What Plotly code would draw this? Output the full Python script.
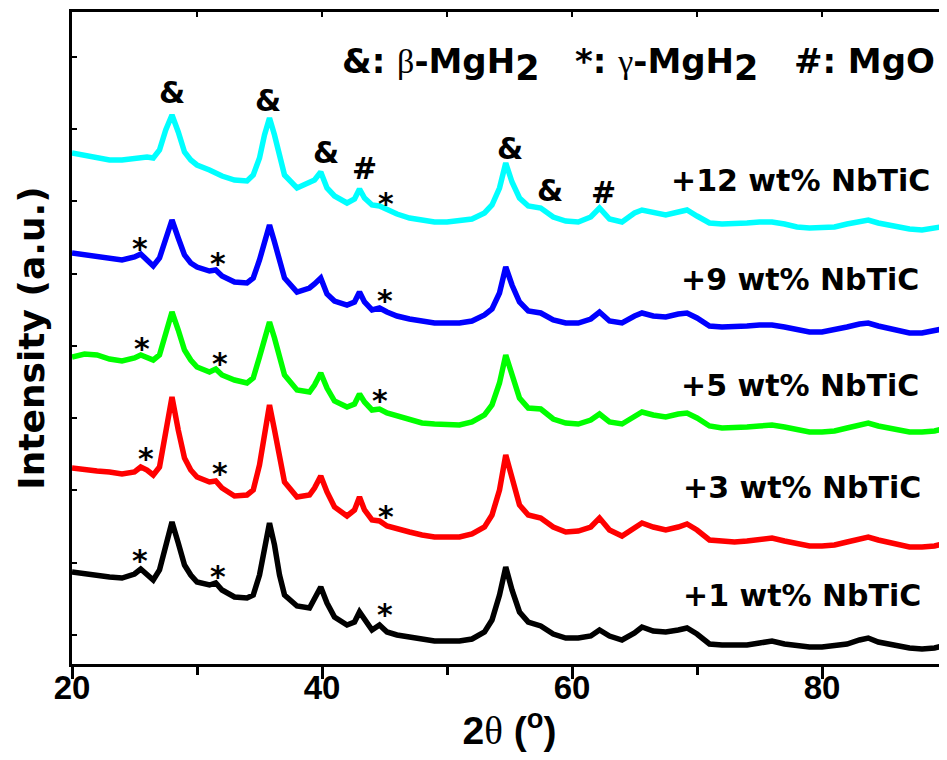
import plotly.graph_objects as go

# 2-theta grid (degrees)
two_theta = [20, 21, 22, 23, 24, 25, 25.5, 26, 26.5, 27,
             27.5, 28, 28.5, 29, 29.5, 30, 31, 31.5, 32, 33,
             34, 34.5, 35, 35.4, 35.8, 36.2, 36.6, 37, 38, 39,
             39.4, 39.9, 40.4, 41, 42, 42.6, 43, 43.4, 44, 44.6,
             45.2, 46, 47, 48, 49, 50, 51, 52, 53, 53.6,
             54.2, 54.7, 55.2, 55.8, 56.5, 57.5, 58.5, 59.5, 60.5, 61.5,
             62.2, 63, 64, 65, 65.6, 66.5, 67.5, 68.5, 69.2, 70,
             71, 72, 73, 74, 75, 76, 77, 78, 79, 80,
             81, 82, 83, 83.7, 84.5, 86, 87, 88, 89, 90]

# stacked intensities (a.u.)
int_1wt = [92, 90, 89, 87, 86, 90, 95, 89, 84, 94,
           119, 142, 121, 99, 89, 82, 79, 81, 74, 67,
           66, 69, 89, 119, 141, 119, 89, 69, 58, 56,
           66, 77, 61, 47, 39, 42, 52, 44, 34, 39,
           32, 29, 27, 25, 23, 23, 23, 25, 32, 44,
           69, 97, 74, 52, 42, 38, 30, 26, 26, 28,
           34, 28, 24, 31, 37, 33, 32, 34, 36, 30,
           20, 19, 19, 19, 21, 23, 20, 18, 17, 17,
           18, 20, 24, 26, 22, 18, 16, 15, 16, 19]

int_3wt = [196, 194, 193, 192, 190, 192, 197, 194, 189, 197,
           231, 267, 234, 206, 194, 187, 182, 183, 176, 168,
           169, 174, 199, 229, 259, 234, 204, 182, 167, 169,
           176, 188, 172, 157, 148, 154, 167, 154, 144, 143,
           138, 135, 132, 129, 127, 127, 127, 130, 137, 149,
           174, 209, 186, 159, 149, 146, 137, 132, 133, 137,
           146, 134, 128, 137, 141, 137, 134, 137, 140, 134,
           124, 123, 122, 123, 125, 126, 123, 120, 118, 118,
           119, 122, 125, 127, 124, 119, 117, 117, 118, 121]

int_5wt = [307, 310, 309, 305, 303, 306, 309, 306, 304, 309,
           331, 352, 334, 314, 304, 297, 292, 295, 289, 284,
           281, 286, 307, 326, 342, 326, 306, 289, 274, 272,
           279, 291, 276, 263, 257, 260, 270, 262, 254, 255,
           251, 248, 244, 241, 240, 239, 239, 242, 249, 259,
           281, 309, 289, 266, 256, 255, 245, 241, 240, 244,
           250, 242, 240, 248, 252, 249, 247, 250, 251, 246,
           238, 236, 236, 237, 238, 239, 237, 234, 232, 232,
           233, 236, 239, 241, 238, 234, 232, 232, 233, 236]

int_9wt = [411, 409, 407, 405, 404, 407, 410, 404, 398, 406,
           426, 444, 426, 409, 401, 397, 393, 394, 388, 382,
           381, 386, 404, 424, 439, 422, 402, 386, 372, 376,
           380, 386, 370, 363, 359, 362, 372, 362, 354, 356,
           352, 348, 345, 343, 341, 341, 341, 343, 349, 355,
           371, 397, 379, 362, 353, 351, 344, 341, 341, 345,
           352, 343, 341, 348, 351, 348, 347, 350, 351, 346,
           338, 337, 337, 338, 339, 339, 337, 334, 332, 332,
           334, 337, 340, 341, 338, 334, 331, 331, 333, 336]

int_12wt = [511, 509, 506, 504, 504, 505, 506, 507, 506, 514,
            534, 549, 532, 512, 504, 499, 494, 491, 488, 484,
            483, 489, 506, 529, 546, 529, 506, 489, 476, 481,
            484, 492, 476, 468, 461, 465, 475, 466, 459, 458,
            454, 450, 446, 444, 442, 442, 443, 445, 451, 459,
            476, 501, 482, 466, 458, 456, 447, 443, 442, 447,
            456, 445, 442, 451, 454, 451, 449, 452, 454, 448,
            441, 440, 440, 441, 442, 442, 440, 437, 436, 436,
            437, 440, 443, 444, 441, 437, 435, 434, 436, 438]

series_names = ["+1 wt% NbTiC", "+3 wt% NbTiC", "+5 wt% NbTiC",
                "+9 wt% NbTiC", "+12 wt% NbTiC"]
series_values = [int_1wt, int_3wt, int_5wt, int_9wt, int_12wt]
series_colors = ["#000000", "#FF0000", "#00FF00", "#0000FF", "#00FFFF"]

# x-axis ticks
x_major = [20, 40, 60, 80]
x_minor = [30, 50, 70]
x_top = [30, 40, 50, 60, 70, 80]

# series label positions (2theta of right edge, intensity)
label_x = [88.1, 88.1, 87.9, 87.9, 88.8]
label_y = [69, 177, 279, 385, 484]

# phase markers: (2theta, intensity, symbol)
mark_x = [28.0, 35.7, 40.3, 43.4, 45.1, 55.0, 58.2, 62.5,
          25.4, 31.7, 45.0,
          25.6, 31.8, 44.6,
          25.9, 31.8, 45.1,
          25.4, 31.7, 45.0]
mark_y = [572, 564, 512, 496, 464, 516, 474, 472,
          419, 404, 367,
          319, 304, 267,
          209, 194, 151,
          107, 91, 53]
mark_text = ["&", "&", "&", "#", "*", "&", "&", "#",
             "*", "*", "*",
             "*", "*", "*",
             "*", "*", "*",
             "*", "*", "*"]

GREEK = 'font-family:Liberation Serif;font-weight:normal'
SUB2 = '<sub><span style="font-size:35px">2</span></sub>'
header = ('&: <span style="%s">β</span>-MgH%s   *: <span style="%s">γ</span>-MgH%s   #: MgO'
          % (GREEK, SUB2, GREEK, SUB2))

LBL = "DejaVu Sans"
ARIAL = "Liberation Sans"

# page body has an 8px margin: figure is sized so that its plot frame
# lands where the reference frame is, without page scrollbars
PAGE_OFF = 8
W, H = 947 - PAGE_OFF, 760 - 2 * PAGE_OFF
ML, MT = 72 - PAGE_OFF, 12 - PAGE_OFF
MB = H - MT - 652

fig = go.Figure()
for name, vals, col in zip(series_names, series_values, series_colors):
    fig.add_trace(go.Scatter(x=two_theta, y=vals, mode="lines", name=name,
                             line=dict(color=col, width=5.5), showlegend=False))
# invisible trace on top axis so it is drawn
fig.add_trace(go.Scatter(x=[two_theta[0], two_theta[-1]], y=[int_1wt[0], int_1wt[-1]],
                         xaxis="x2", mode="lines", line=dict(width=0),
                         hoverinfo="skip", showlegend=False))

annotations = []
for t, x, y in zip(series_names, label_x, label_y):
    annotations.append(dict(x=x, y=y, text=t, showarrow=False, xanchor="right",
                            yanchor="middle", font=dict(family=LBL, size=30, color="black", weight=700)))
for x, y, t in zip(mark_x, mark_y, mark_text):
    sy = -3 if t == "*" else 0
    annotations.append(dict(x=x, y=y, text=t, showarrow=False, xanchor="center",
                            yanchor="middle", yshift=sy,
                            font=dict(family=LBL, size=30, color="black", weight=700)))
annotations.append(dict(x=1.0, xref="paper", y=0.92, yref="paper", xshift=-10,
                        text=header, showarrow=False,
                        xanchor="right", yanchor="middle",
                        font=dict(family=LBL, size=34, color="black", weight=700)))

fig.update_layout(
    width=W, height=H,
    margin=dict(l=ML, r=0, t=MT, b=MB),
    paper_bgcolor="white", plot_bgcolor="white",
    annotations=annotations,
    xaxis=dict(range=[20, 90], tickvals=x_major, automargin=False,
               ticks="outside", ticklen=12, tickwidth=3, tickcolor="black",
               minor=dict(tickvals=x_minor, ticks="outside", ticklen=8, tickwidth=3, tickcolor="black"),
               ticklabelstandoff=-20,
               showline=True, linewidth=3, linecolor="black", showgrid=False, zeroline=False,
               tickfont=dict(family=ARIAL, size=33, color="black", weight=700),
               title=dict(text='2<span style="font-family:Liberation Serif;font-weight:normal">θ</span> (<sup>o</sup>)',
                          standoff=0,
                          font=dict(family=ARIAL, size=39, color="black", weight=700))),
    xaxis2=dict(range=[20, 90], overlaying="x", side="top", anchor="y", automargin=False,
                tickvals=x_top, ticks="inside", ticklen=5, tickwidth=2,
                tickcolor="black", showticklabels=False, showline=True, linewidth=3,
                linecolor="black", showgrid=False, zeroline=False),
    yaxis=dict(range=[0, 652], tick0=29, dtick=72.3, ticks="inside", ticklen=5, tickwidth=2,
               automargin=False,
               tickcolor="black", showticklabels=False, showline=True, linewidth=3,
               linecolor="black", showgrid=False, zeroline=False,
               title=dict(text="Intensity (a.u.)", standoff=14,
                          font=dict(family=LBL, size=36, color="black", weight=700))),
)
fig.write_html("out.html")
